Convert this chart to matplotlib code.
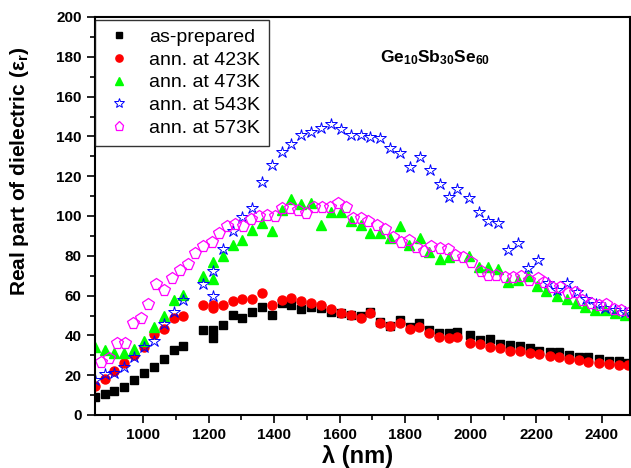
import matplotlib
matplotlib.use("Agg")
import matplotlib.pyplot as plt
from matplotlib.ticker import MultipleLocator

plt.rcParams['font.family'] = ['Liberation Sans', 'DejaVu Sans']
plt.rcParams['mathtext.fontset'] = 'custom'
plt.rcParams['mathtext.rm'] = 'Liberation Sans'
plt.rcParams['mathtext.it'] = 'Liberation Sans:italic'
plt.rcParams['mathtext.bf'] = 'Liberation Sans:bold'

# ---- data (wavelength nm, real part of dielectric constant) ----
asprep_x = [853, 882, 912, 942, 972, 1002, 1033, 1063, 1094, 1123, 1183, 1212, 1212,
            1243, 1273, 1303, 1333, 1362, 1392, 1423, 1452, 1483, 1512, 1544, 1573,
            1604, 1634, 1664, 1692, 1723, 1753, 1784, 1814, 1843, 1874, 1904, 1934,
            1957, 1998, 2028, 2059, 2090, 2120, 2151, 2180, 2209, 2241, 2270, 2301,
            2330, 2358, 2391, 2422, 2452, 2480]
asprep_y = [9.2, 10.7, 12.2, 14.1, 17.4, 20.9, 24.0, 28.0, 32.8, 34.8, 42.5, 42.9, 38.8,
            45.1, 50.3, 48.7, 51.9, 54.4, 50.3, 56.1, 55.3, 53.3, 54.4, 53.8, 52.0,
            51.1, 50.3, 49.7, 51.9, 46.9, 44.7, 47.7, 44.4, 46.1, 42.7, 41.0, 41.4,
            41.6, 40.2, 37.7, 38.0, 35.7, 35.2, 34.7, 33.8, 32.3, 31.5, 31.5, 30.2,
            29.3, 29.3, 28.0, 27.3, 27.3, 26.3]

ann423_x = asprep_x
ann423_y = [14.6, 18.3, 22.1, 26.0, 30.0, 34.3, 40.5, 43.2, 48.9, 49.6, 55.1, 55.1, 53.6,
            55.3, 57.3, 58.1, 58.3, 61.5, 55.3, 57.8, 59.0, 57.3, 56.5, 55.1, 53.1,
            51.4, 50.3, 48.6, 51.1, 46.4, 44.7, 46.4, 43.1, 44.1, 41.4, 39.0, 38.5,
            39.0, 36.3, 35.7, 34.3, 33.8, 32.3, 32.3, 31.3, 30.5, 29.8, 29.3, 28.0,
            27.6, 26.8, 26.0, 25.5, 25.0, 25.0]

ann473_x = [853, 882, 912, 942, 972, 1002, 1033, 1063, 1094, 1123, 1183, 1212, 1212,
            1243, 1273, 1303, 1333, 1362, 1392, 1423, 1452, 1483, 1512, 1543, 1573,
            1604, 1634, 1664, 1692, 1723, 1753, 1784, 1812, 1845, 1874, 1905, 1934,
            1995, 2025, 2054, 2084, 2114, 2145, 2175, 2202, 2231, 2262, 2294, 2320,
            2350, 2380, 2411, 2441, 2470]
ann473_y = [34.0, 32.7, 31.0, 31.0, 33.0, 37.3, 44.4, 49.9, 57.8, 60.1, 70.0, 76.7, 68.2,
            79.9, 85.4, 88.0, 93.0, 96.3, 92.3, 103.0, 108.4, 106.0, 106.4, 95.3, 102.2,
            102.2, 97.7, 95.3, 91.3, 91.6, 88.8, 95.0, 85.4, 88.8, 82.1, 78.2, 79.6,
            79.9, 74.2, 74.2, 73.2, 66.8, 68.0, 69.8, 65.0, 62.4, 59.8, 58.1, 56.1,
            54.4, 52.8, 52.8, 51.1, 50.3]

ann543_x = [853, 882, 912, 942, 972, 1002, 1033, 1063, 1094, 1123, 1183, 1212, 1212,
            1243, 1273, 1303, 1333, 1362, 1392, 1423, 1452, 1483, 1512, 1544, 1573,
            1604, 1634, 1664, 1692, 1723, 1753, 1784, 1814, 1845, 1875, 1905, 1934,
            1957, 1995, 2025, 2054, 2084, 2114, 2145, 2175, 2205, 2235, 2264, 2294,
            2323, 2353, 2383, 2411, 2441, 2470]
ann543_y = [17.6, 20.6, 21.3, 24.0, 29.3, 34.0, 37.2, 45.9, 51.8, 57.9, 65.8, 72.5, 59.6,
            83.2, 92.5, 99.3, 103.8, 117.1, 125.6, 132.0, 136.0, 140.9, 142.2, 144.4, 146.2,
            143.6, 140.9, 140.9, 139.9, 139.3, 134.0, 131.5, 124.5, 129.8, 123.1, 116.1, 109.4,
            113.4, 108.9, 101.8, 97.6, 96.3, 82.9, 86.6, 74.0, 78.0, 66.5, 63.0, 66.3,
            62.0, 58.5, 56.0, 54.0, 53.0, 52.0]

ann573_x = [872, 896, 920, 944, 969, 993, 1016, 1040, 1063, 1088, 1111, 1136, 1159, 1184,
            1209, 1232, 1257, 1280, 1304, 1328, 1354, 1379, 1402, 1423, 1448, 1473, 1497,
            1521, 1545, 1570, 1594, 1618, 1641, 1665, 1687, 1713, 1738, 1762, 1787, 1810,
            1832, 1856, 1880, 1905, 1929, 1952, 1976, 2002, 2030, 2054, 2078, 2104, 2129,
            2153, 2179, 2204, 2225, 2249, 2272, 2296, 2318, 2340, 2366, 2391, 2414, 2438,
            2460, 2485]
ann573_y = [26.5, 28.5, 36.0, 36.0, 46.4, 48.9, 55.8, 65.7, 62.8, 68.7, 72.7, 75.9, 81.6, 84.9,
            86.8, 91.6, 95.0, 96.0, 95.0, 98.3, 100.0, 100.5, 100.0, 103.8, 103.8, 103.0, 101.3,
            104.7, 104.7, 104.5, 106.4, 104.3, 99.0, 98.8, 97.6, 95.5, 93.3, 89.6, 87.1, 87.9,
            84.6, 82.6, 85.1, 83.7, 83.2, 80.4, 79.6, 77.0, 72.5, 70.4, 70.4, 69.2, 69.2,
            69.8, 67.8, 68.7, 66.6, 64.2, 64.5, 61.1, 62.0, 57.8, 56.1, 55.3, 55.8, 53.3,
            52.8, 51.9]

labels = ['as-prepared', 'ann. at 423K', 'ann. at 473K', 'ann. at 543K', 'ann. at 573K']
x_ticks = [1000, 1200, 1400, 1600, 1800, 2000, 2200, 2400]
y_ticks = [0, 20, 40, 60, 80, 100, 120, 140, 160, 180, 200]

fig = plt.figure(figsize=(6.31, 4.68), dpi=100)
ax = fig.add_axes([95 / 631, 1 - 415 / 468, 535 / 631, 398 / 468])

ax.plot(asprep_x, asprep_y, ls='none', marker='s', ms=6, mfc='black', mec='black',
        label=labels[0])
ax.plot(ann423_x, ann423_y, ls='none', marker='o', ms=6.5, mfc='red', mec='red',
        label=labels[1])
ax.plot(ann473_x, ann473_y, ls='none', marker='^', ms=7.5, mfc='#00ff00', mec='#00ff00',
        label=labels[2])
ax.plot(ann543_x, ann543_y, ls='none', marker='*', ms=9, mfc='none', mec='blue', mew=0.7,
        label=labels[3])
ax.plot(ann573_x, ann573_y, ls='none', marker='p', ms=8.5, mfc='none', mec='magenta', mew=0.9,
        label=labels[4])

ax.set_xlim(853, 2486)
ax.set_ylim(0, 200)
ax.set_xticks(x_ticks)
ax.set_yticks(y_ticks)
ax.xaxis.set_minor_locator(MultipleLocator(100))
ax.yaxis.set_minor_locator(MultipleLocator(10))
ax.tick_params(which='major', direction='out', length=6, width=1.2, labelsize=11)
ax.tick_params(which='minor', direction='out', length=3.5, width=1.2)
for lab in ax.get_xticklabels() + ax.get_yticklabels():
    lab.set_fontweight('bold')
for sp in ax.spines.values():
    sp.set_linewidth(1.5)

leg = ax.legend(loc='upper left', bbox_to_anchor=(0.0, 0.993), borderaxespad=0,
                fontsize=14, frameon=True, fancybox=False, edgecolor='black',
                handletextpad=0.75, labelspacing=0.26, borderpad=0.45, handlelength=1.6,
                markerscale=0.8)
leg.get_frame().set_linewidth(1.0)

fig.text(20 / 631, 1 - 171 / 468, 'Real part of dielectric (ε$_{\\mathbf{r}}$)',
         rotation=90, ha='center', va='center', fontsize=15, fontweight='bold')
fig.text(358 / 631, 1 - 456 / 468, 'λ (nm)', ha='center', va='center',
         fontsize=17, fontweight='bold')
fig.text(380 / 631, 1 - 62 / 468, r'$\mathbf{Ge_{10}Sb_{30}Se_{60}}$',
         ha='left', va='baseline', fontsize=12.5)

fig.savefig('out.png', dpi=100)
